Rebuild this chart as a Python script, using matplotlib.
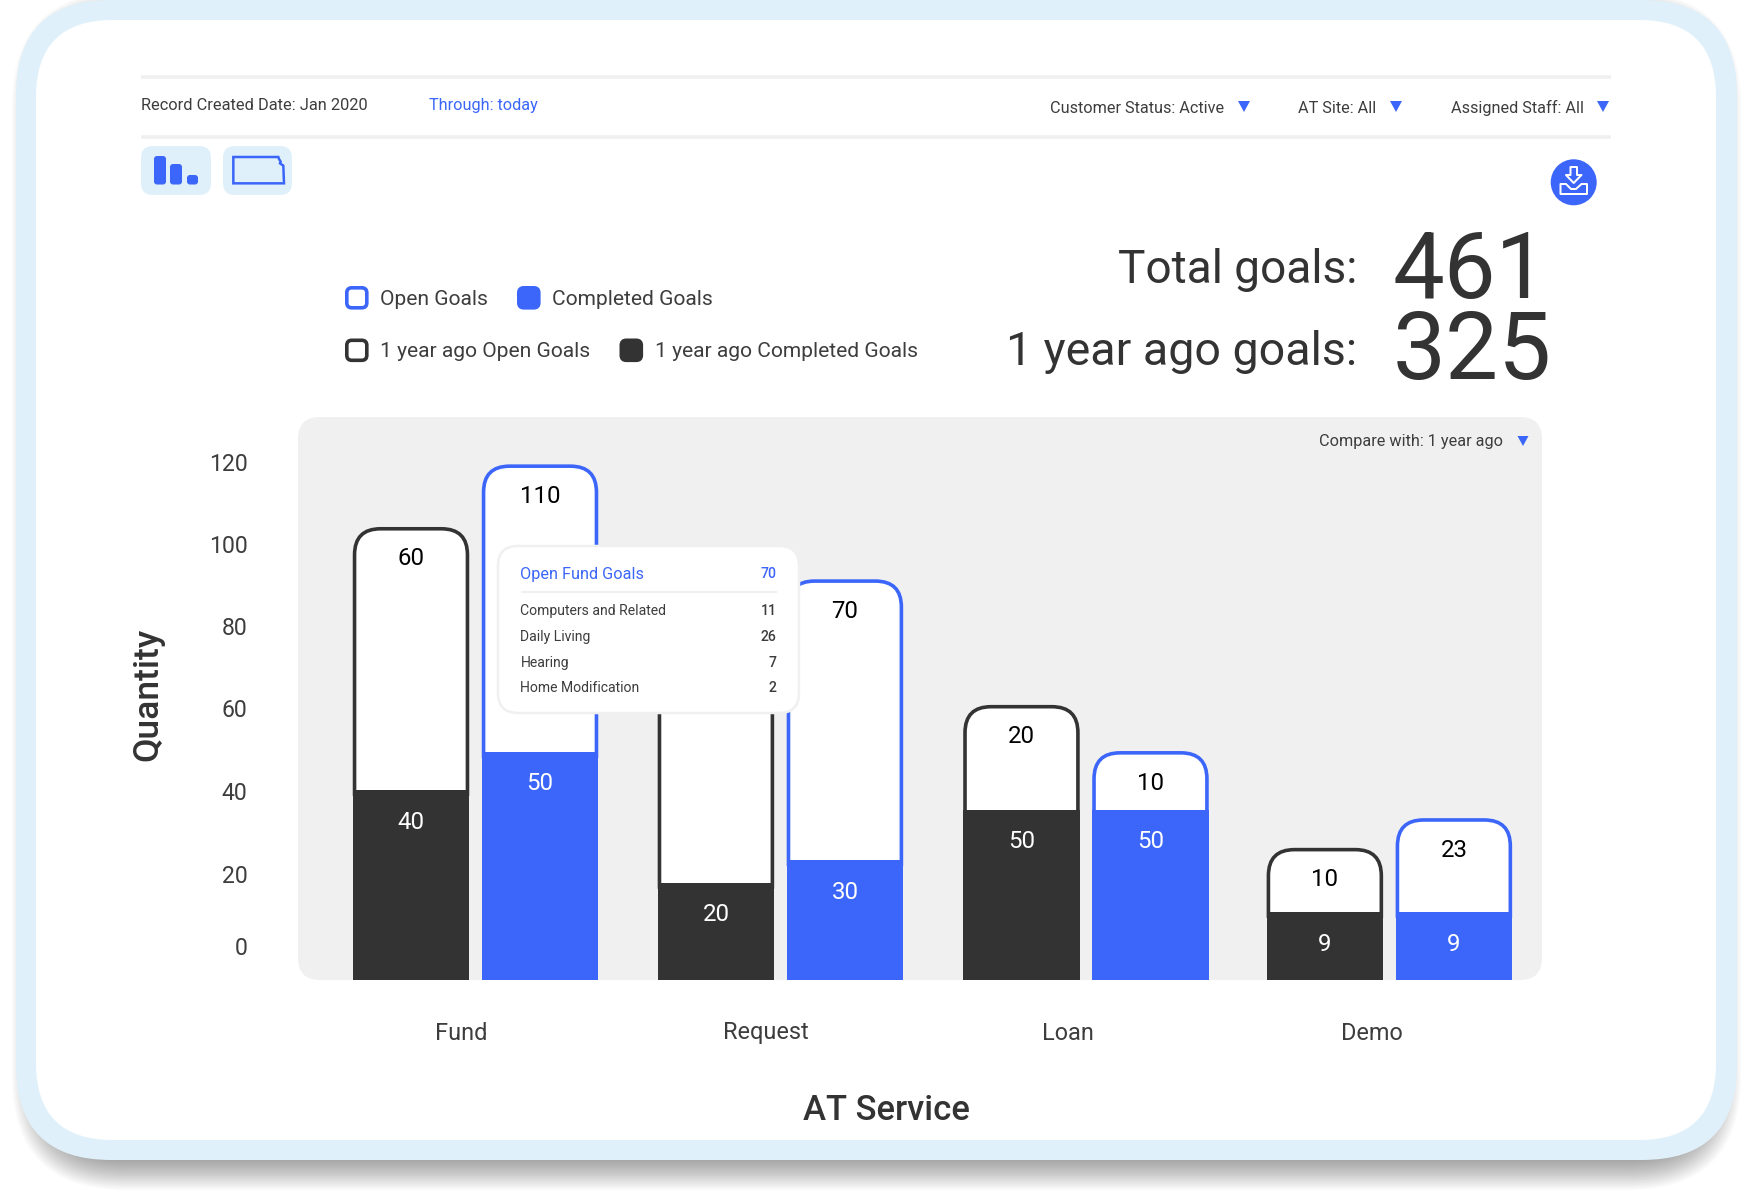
import numpy as np
import matplotlib
matplotlib.use('Agg')
import matplotlib.pyplot as plt
from matplotlib.patches import FancyBboxPatch, PathPatch, Polygon, Circle
from matplotlib.path import Path

plt.rcParams['font.family'] = ['Roboto', 'DejaVu Sans']

# data
services = ['Fund', 'Request', 'Loan', 'Demo']
ytick_labels = ['0', '20', '40', '60', '80', '100', '120']
ytick_levels = [2.8, 20.2, 40.3, 60.5, 80.5, 100.3, 120.2]

# numbers printed on the bars (the hidden one sits behind the tooltip)
ago_completed_labels = [40, 20, 50, 9]
ago_open_labels = [60, None, 20, 10]
now_completed_labels = [50, 30, 50, 9]
now_open_labels = [110, 70, 10, 23]

# where the bars end when read against the y axis
ago_completed_levels = [40.6, 18.1, 35.8, 11.0]
ago_open_levels = [104.5, 88.0, 61.3, 26.6]
now_completed_levels = [49.9, 23.6, 35.8, 11.0]
now_open_levels = [119.7, 91.8, 50.1, 33.8]

tooltip_title = 'Open Fund Goals'
tooltip_total = 70
tooltip_names = ['Computers and Related', 'Daily Living', 'Hearing', 'Home Modification']
tooltip_values = [11, 26, 7, 2]

BLUE = '#3B66F9'
DARK = '#333333'
TEXT = '#3D3D3D'
CARD = '#DFF0FA'
GREY = '#F0F0F0'
W, H = 1752, 1192


def pt(px):
    return px * 72 / 100


def rrect(ax, x0, y0, x1, y1, r, **kw):
    p = FancyBboxPatch((x0, y0), x1 - x0, y1 - y0,
                       boxstyle='round,pad=0,rounding_size=%g' % r, **kw)
    ax.add_patch(p)
    return p


def px_text(ax, x, y, s, size, color=TEXT, ha='left', **kw):
    # y is the baseline, size in pixels
    ax.text(x, y, s, fontsize=pt(size), color=color, ha=ha, va='baseline', **kw)


def tri(ax, cx, y0, y1, half=6):
    ax.add_patch(Polygon([(cx - half, y0), (cx + half, y0), (cx, y1)], closed=True,
                         fc=BLUE, ec='none'))


fig = plt.figure(figsize=(W / 100, H / 100), dpi=100, facecolor='white')

# page layer in pixels
bg = fig.add_axes([0, 0, 1, 1], zorder=0)
bg.set_xlim(0, W)
bg.set_ylim(H, 0)
bg.axis('off')

# soft shadow under the card
for g in np.linspace(-18, 18, 24):
    rrect(bg, 30 - g, 10 - g, 1723 + g, 1172 + g, 95 + g, fc='black', ec='none', alpha=0.02)
rrect(bg, 16, 0, 1737, 1160, 95, fc=CARD, ec='none')
rrect(bg, 36, 20, 1716, 1140, 77, fc='white', ec='none')

# filter bar
for y in [77, 137]:
    bg.plot([141, 1611], [y, y], color=GREY, lw=pt(3.5), solid_capstyle='butt')
px_text(bg, 141, 110, 'Record Created Date: Jan 2020', 16.4)
px_text(bg, 429, 110, 'Through: today', 16.3, color=BLUE)
px_text(bg, 1050, 113, 'Customer Status: Active', 16.3)
px_text(bg, 1298, 113, 'AT Site: All', 16.3)
px_text(bg, 1451, 113, 'Assigned Staff: All', 16.3)
for cx in [1244, 1396, 1603]:
    tri(bg, cx, 101, 112)

# view buttons
rrect(bg, 141, 146, 211, 195, 12, fc=CARD, ec='none')
rrect(bg, 223, 146, 292, 195, 12, fc=CARD, ec='none')
for x0, x1, y0 in [(154, 166, 156), (170, 182, 164), (187, 198, 175)]:
    rrect(bg, x0, y0, x1, 184.5, 3, fc=BLUE, ec='none')
kansas = [(310, 66), (445, 66), (447, 72), (452, 80), (450, 85), (460, 92), (462, 145), (310, 145)]
bg.add_patch(Polygon([(130 + a / 3, 135 + b / 3) for a, b in kansas], closed=True,
                     fc='none', ec=BLUE, lw=pt(2.5)))

# download button
bg.add_patch(Circle((1573.7, 182.3), 23, fc=BLUE, ec='none'))
arrow = [(1570.5, 167), (1577, 167), (1577, 175), (1581.5, 175), (1573.7, 183), (1566, 175), (1570.5, 175)]
bg.add_patch(Polygon(arrow, closed=True, fc='none', ec='white', lw=pt(2), joinstyle='round'))
tray = [(1566, 184), (1560.5, 184), (1560.5, 194), (1587, 194), (1587, 184), (1581.5, 184), (1576, 189), (1571, 189)]
bg.add_patch(Polygon(tray, closed=True, fc='none', ec='white', lw=pt(2), joinstyle='round'))

# legend
for x0, row_y, col, filled in [(345, 286, BLUE, False), (517, 286, BLUE, True),
                               (345, 338.5, DARK, False), (619.5, 338.5, DARK, True)]:
    rrect(bg, x0 + 1.8, row_y + 1.8, x0 + 21.8, row_y + 21.8, 5,
          fc=col if filled else 'white', ec=col, lw=pt(3.6))
px_text(bg, 380.5, 305, 'Open Goals', 21)
px_text(bg, 552.5, 305, 'Completed Goals', 21)
px_text(bg, 380.5, 356.8, '1 year ago Open Goals', 21)
px_text(bg, 655, 356.8, '1 year ago Completed Goals', 21)

# totals
px_text(bg, 1357, 283, 'Total goals:', 46, ha='right', color=DARK)
px_text(bg, 1357, 365, '1 year ago goals:', 46.5, ha='right', color=DARK)
px_text(bg, 1393, 298, '461', 92, color=DARK)
px_text(bg, 1393, 379, '325', 94.5, color=DARK)

# grey panel behind the chart
rrect(bg, 298, 417, 1542, 980, 22, fc=GREY, ec='none')
px_text(bg, 1319, 446, 'Compare with: 1 year ago', 16.3)
tri(bg, 1523, 436, 446, half=5.5)

# chart
ax = fig.add_axes([298 / W, 1 - 980 / H, (1542 - 298) / W, (980 - 417) / H], zorder=1)
ax.patch.set_alpha(0)
for s in ax.spines.values():
    s.set_visible(False)
x_per_px = 1 / 304.6
y_per_px = 1 / 4.12
floor = -5.49
ax.set_xlim(-0.5827, 3.501)
ax.set_ylim(floor, 131.2)
ax.set_xticks(np.arange(len(services)) + np.array([-0.047, -0.048, -0.056, -0.057]), services)
ax.set_yticks(ytick_levels, ytick_labels)
ax.tick_params(axis='both', length=0, labelcolor=TEXT)
ax.tick_params(axis='x', labelsize=pt(23.5), pad=pt(41.5))
ax.tick_params(axis='y', labelsize=pt(23), pad=pt(50.5))
ax.set_xlabel('AT Service', fontsize=pt(34.6), fontweight='medium', color=DARK)
ax.xaxis.set_label_coords((886 - 298) / 1244, -(1094 - 980) / 563)
ax.set_ylabel('Quantity', fontsize=pt(35.5), fontweight='medium', color=DARK)
ax.yaxis.set_label_coords((164 - 298) / 1244, (980 - 694) / 563)

x = np.array([0, 1.001, 2.004, 3.0])
bar_w = 116.5 * x_per_px
offset = 64.5 * x_per_px
lw_px = 3.6
radius = 26


def draw_group(xs, solid, top, solid_labels, top_labels, color):
    # solid part comes from ax.bar, the open part gets a rounded top
    ax.bar(xs, np.array(solid) - floor, bottom=floor, width=bar_w, color=color, zorder=3)
    for xc, s, t, sl, tl in zip(xs, solid, top, solid_labels, top_labels):
        l = xc - bar_w / 2 + lw_px / 2 * x_per_px
        r = xc + bar_w / 2 - lw_px / 2 * x_per_px
        t2 = t - lw_px / 2 * y_per_px
        rx, ry = radius * x_per_px, radius * y_per_px
        verts = [(l, s - 1), (l, t2 - ry), (l, t2), (l + rx, t2), (r - rx, t2), (r, t2),
                 (r, t2 - ry), (r, s - 1), (l, s - 1)]
        codes = [Path.MOVETO, Path.LINETO, Path.CURVE3, Path.CURVE3, Path.LINETO,
                 Path.CURVE3, Path.CURVE3, Path.LINETO, Path.CLOSEPOLY]
        ax.add_patch(PathPatch(Path(verts, codes), fc='white', ec=color, lw=pt(lw_px), zorder=2))
        ax.annotate(str(sl), (xc, s), xytext=(0, -pt(38.5)), textcoords='offset points',
                    ha='center', va='baseline', fontsize=pt(24), color='white', zorder=4)
        if tl is not None:
            ax.annotate(str(tl), (xc, t), xytext=(0, -pt(38.5)), textcoords='offset points',
                        ha='center', va='baseline', fontsize=pt(24), color='black', zorder=4)


draw_group(x - offset, ago_completed_levels, ago_open_levels,
           ago_completed_labels, ago_open_labels, DARK)
draw_group(x + offset, now_completed_levels, now_open_levels,
           now_completed_labels, now_open_labels, BLUE)

# tooltip sits above the bars
top = fig.add_axes([0, 0, 1, 1], zorder=2)
top.set_xlim(0, W)
top.set_ylim(H, 0)
top.axis('off')
rrect(top, 498, 546, 799, 713, 20, fc='white', ec=GREY, lw=pt(2.5))
px_text(top, 520.5, 579.5, tooltip_title, 16.3, color=BLUE)
px_text(top, 776.5, 578, str(tooltip_total), 14, color=BLUE, ha='right', fontweight='medium')
top.plot([521, 776.5], [592, 592], color=GREY, lw=pt(2), solid_capstyle='butt')
for i, (name, val) in enumerate(zip(tooltip_names, tooltip_values)):
    y = 615.2 + i * 25.7
    px_text(top, 520.5, y, name, 14)
    px_text(top, 776.5, y, str(val), 14, ha='right', fontweight='medium')

fig.savefig('out.png', dpi=100)
